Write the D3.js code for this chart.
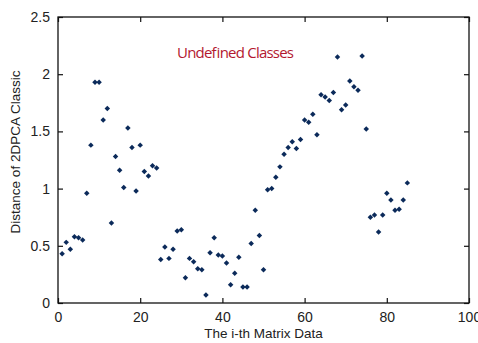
<!DOCTYPE html>
<meta charset="utf-8">
<style>
body { margin: 0; background: #fff; }
</style>
<svg width="478" height="343"></svg>
<script src="https://d3js.org/d3.v7.min.js"></script>
<script>
// distance values for matrix index 1..85
const distances = [
  0.43, 0.53, 0.47, 0.58, 0.57, 0.55, 0.96, 1.38, 1.93, 1.93,
  1.60, 1.70, 0.70, 1.28, 1.16, 1.01, 1.53, 1.36, 0.98, 1.38,
  1.15, 1.11, 1.20, 1.18, 0.38, 0.49, 0.39, 0.47, 0.63, 0.64,
  0.22, 0.39, 0.36, 0.30, 0.29, 0.07, 0.44, 0.57, 0.42, 0.41,
  0.35, 0.16, 0.26, 0.40, 0.14, 0.14, 0.52, 0.81, 0.59, 0.29,
  0.99, 1.00, 1.10, 1.19, 1.30, 1.36, 1.41, 1.35, 1.43, 1.60,
  1.58, 1.65, 1.47, 1.82, 1.80, 1.77, 1.84, 2.15, 1.69, 1.73,
  1.94, 1.89, 1.86, 2.16, 1.52, 0.75, 0.77, 0.62, 0.77, 0.96,
  0.90, 0.81, 0.82, 0.90, 1.05
];
const xTicks = [0, 20, 40, 60, 80, 100];
const yTicks = [0, 0.5, 1, 1.5, 2, 2.5];
const yTickLabels = ["0", "0.5", "1", "1.5", "2", "2.5"];

const svg = d3.select("svg");
const mLeft = 58, mRight = 469, mTop = 17, mBottom = 303;
const axisFont = "'Liberation Sans', Arial, sans-serif";

const x = d3.scaleLinear().domain([0, 100]).range([mLeft, mRight]);
const y = d3.scaleLinear().domain([0, 2.5]).range([mBottom, mTop]);

// box
svg.append("rect")
  .attr("x", mLeft).attr("y", mTop)
  .attr("width", mRight - mLeft).attr("height", mBottom - mTop)
  .attr("fill", "none").attr("stroke", "#111").attr("stroke-width", 1.3);

const tickLen = 5;
const gx = svg.append("g").attr("transform", `translate(0,${mBottom})`)
  .call(d3.axisBottom(x).tickValues(xTicks).tickSizeInner(-tickLen).tickSizeOuter(0).tickPadding(9));
const gxTop = svg.append("g").attr("transform", `translate(0,${mTop})`)
  .call(d3.axisTop(x).tickValues(xTicks).tickSizeInner(-tickLen).tickSizeOuter(0).tickFormat(""));
const gy = svg.append("g").attr("transform", `translate(${mLeft},0)`)
  .call(d3.axisLeft(y).tickValues(yTicks).tickSizeInner(-tickLen).tickSizeOuter(0).tickPadding(8)
    .tickFormat((d, i) => yTickLabels[i]));
const gyR = svg.append("g").attr("transform", `translate(${mRight},0)`)
  .call(d3.axisRight(y).tickValues(yTicks).tickSizeInner(-tickLen).tickSizeOuter(0).tickFormat(""));

[gx, gxTop, gy, gyR].forEach(g => {
  g.select(".domain").remove();
  g.selectAll("line").attr("stroke", "#111").attr("stroke-width", 1.2);
  g.selectAll("text").attr("font-size", 14).attr("fill", "#222")
    .attr("font-family", axisFont);
});

// points: small diamonds (squares turned 45 deg)
const marker = d3.symbol().type(d3.symbolSquare).size(15);
svg.append("g").selectAll("path")
  .data(distances)
  .join("path")
  .attr("transform", (d, i) => `translate(${x(i + 1)},${y(d)}) rotate(45)`)
  .attr("d", marker)
  .attr("fill", "#0b2a5a");

// labels
svg.append("text")
  .attr("x", (mLeft + mRight) / 2).attr("y", 338)
  .attr("text-anchor", "middle").attr("font-size", 13.5).attr("fill", "#222")
  .attr("font-family", axisFont)
  .text("The i-th Matrix Data");

svg.append("text")
  .attr("transform", `translate(20,${(mTop + mBottom) / 2 - 8}) rotate(-90)`)
  .attr("text-anchor", "middle").attr("font-size", 13.5).attr("fill", "#222")
  .attr("font-family", axisFont)
  .text("Distance of 2DPCA Classic");

svg.append("text")
  .attr("x", 177).attr("y", 58)
  .attr("font-family", "'Open Sans', sans-serif")
  .attr("font-size", 15).attr("fill", "#b3182f")
  .attr("textLength", 117)
  .text("Undefined Classes");
</script>
